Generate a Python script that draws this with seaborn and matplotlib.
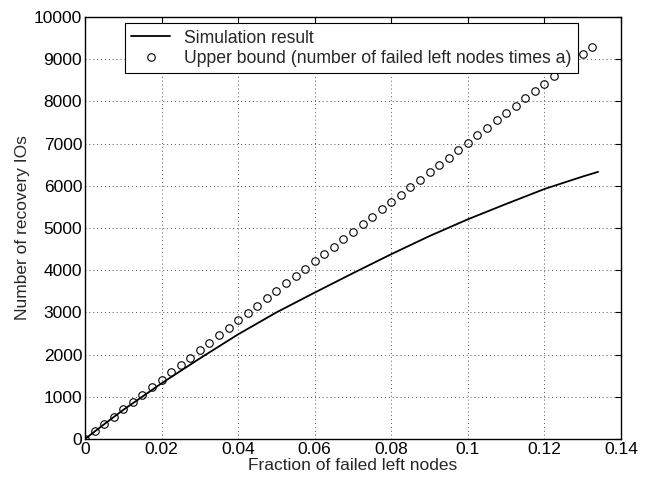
import matplotlib
matplotlib.use("Agg")
import matplotlib.pyplot as plt
import seaborn as sns
import pandas as pd

# Simulation result
sim_x = [0, 0.005, 0.01, 0.02, 0.03, 0.04, 0.05, 0.06, 0.07, 0.08, 0.09, 0.1, 0.11, 0.12, 0.13, 0.134]
sim_y = [0, 350, 690, 1320, 1910, 2480, 3000, 3470, 3930, 4380, 4810, 5206, 5570, 5924, 6220, 6330]

# Upper bound (circles)
ub_x = [0, 0.0025, 0.005, 0.0075, 0.01, 0.0125, 0.015, 0.0175, 0.02, 0.0225,
        0.025, 0.0275, 0.03, 0.0325, 0.035, 0.0375, 0.04, 0.0425, 0.045, 0.0475,
        0.05, 0.0525, 0.055, 0.0575, 0.06, 0.0625, 0.065, 0.0675, 0.07, 0.0725,
        0.075, 0.0775, 0.08, 0.0825, 0.085, 0.0875, 0.09, 0.0925, 0.095, 0.0975,
        0.1, 0.1025, 0.105, 0.1075, 0.11, 0.1125, 0.115, 0.1175, 0.12, 0.1225,
        0.125, 0.1275, 0.13, 0.1325]
ub_y = [0, 180, 350, 530, 700, 880, 1050, 1230, 1400, 1580,
        1760, 1930, 2110, 2280, 2460, 2630, 2810, 2980, 3160, 3330,
        3510, 3690, 3860, 4040, 4210, 4390, 4560, 4740, 4910, 5090,
        5270, 5440, 5620, 5790, 5970, 6140, 6320, 6490, 6670, 6840,
        7020, 7200, 7370, 7550, 7720, 7900, 8070, 8250, 8420, 8600,
        8780, 8950, 9130, 9300]

x_ticks = [0, 0.02, 0.04, 0.06, 0.08, 0.1, 0.12, 0.14]
x_tick_labels = ["0", "0.02", "0.04", "0.06", "0.08", "0.1", "0.12", "0.14"]
y_ticks = [0, 1000, 2000, 3000, 4000, 5000, 6000, 7000, 8000, 9000, 10000]

sns.set_style("white")
plt.rcParams['font.family'] = ['Liberation Sans', 'DejaVu Sans']

FS = 12.5

fig = plt.figure(figsize=(6.55, 4.79), dpi=100)
ax = fig.add_axes([85/655, 1 - 439/479, 536/655, 422/479])

sim_df = pd.DataFrame({"x": sim_x, "y": sim_y})
ub_df = pd.DataFrame({"x": ub_x, "y": ub_y})

sns.lineplot(data=sim_df, x="x", y="y", ax=ax, color="black", linewidth=1.3,
             label="Simulation result", zorder=3)
ax.plot(ub_df["x"], ub_df["y"], linestyle="none", marker="o", markersize=5.4,
        markerfacecolor="none", markeredgecolor="black", markeredgewidth=0.8,
        label="Upper bound (number of failed left nodes times a)", zorder=3)

ax.set_xlim(0, 0.14)
ax.set_ylim(0, 10000)
ax.set_xticks(x_ticks)
ax.set_xticklabels(x_tick_labels)
ax.set_yticks(y_ticks)
ax.set_yticklabels([str(v) for v in y_ticks])

ax.grid(True, linestyle=(0, (1, 3)), color="#555555", linewidth=0.7)
ax.tick_params(direction="in", top=True, right=True, length=4, width=0.8,
               labelsize=FS, colors="black", pad=2)
for s in ax.spines.values():
    s.set_color("black")
    s.set_linewidth(1.0)
    s.set_visible(True)

ax.set_xlabel("Fraction of failed left nodes", fontsize=FS, labelpad=1)
ax.set_ylabel("Number of recovery IOs", fontsize=FS, labelpad=3)

leg = ax.legend(loc="upper left", bbox_to_anchor=(0.0746, 0.985), frameon=True,
                fancybox=False, edgecolor="black", framealpha=1, fontsize=12.7,
                borderpad=0.35, labelspacing=0.18, handlelength=2.2,
                handletextpad=0.8, borderaxespad=0)
leg.get_frame().set_linewidth(0.8)

fig.savefig("out.png", dpi=100)
